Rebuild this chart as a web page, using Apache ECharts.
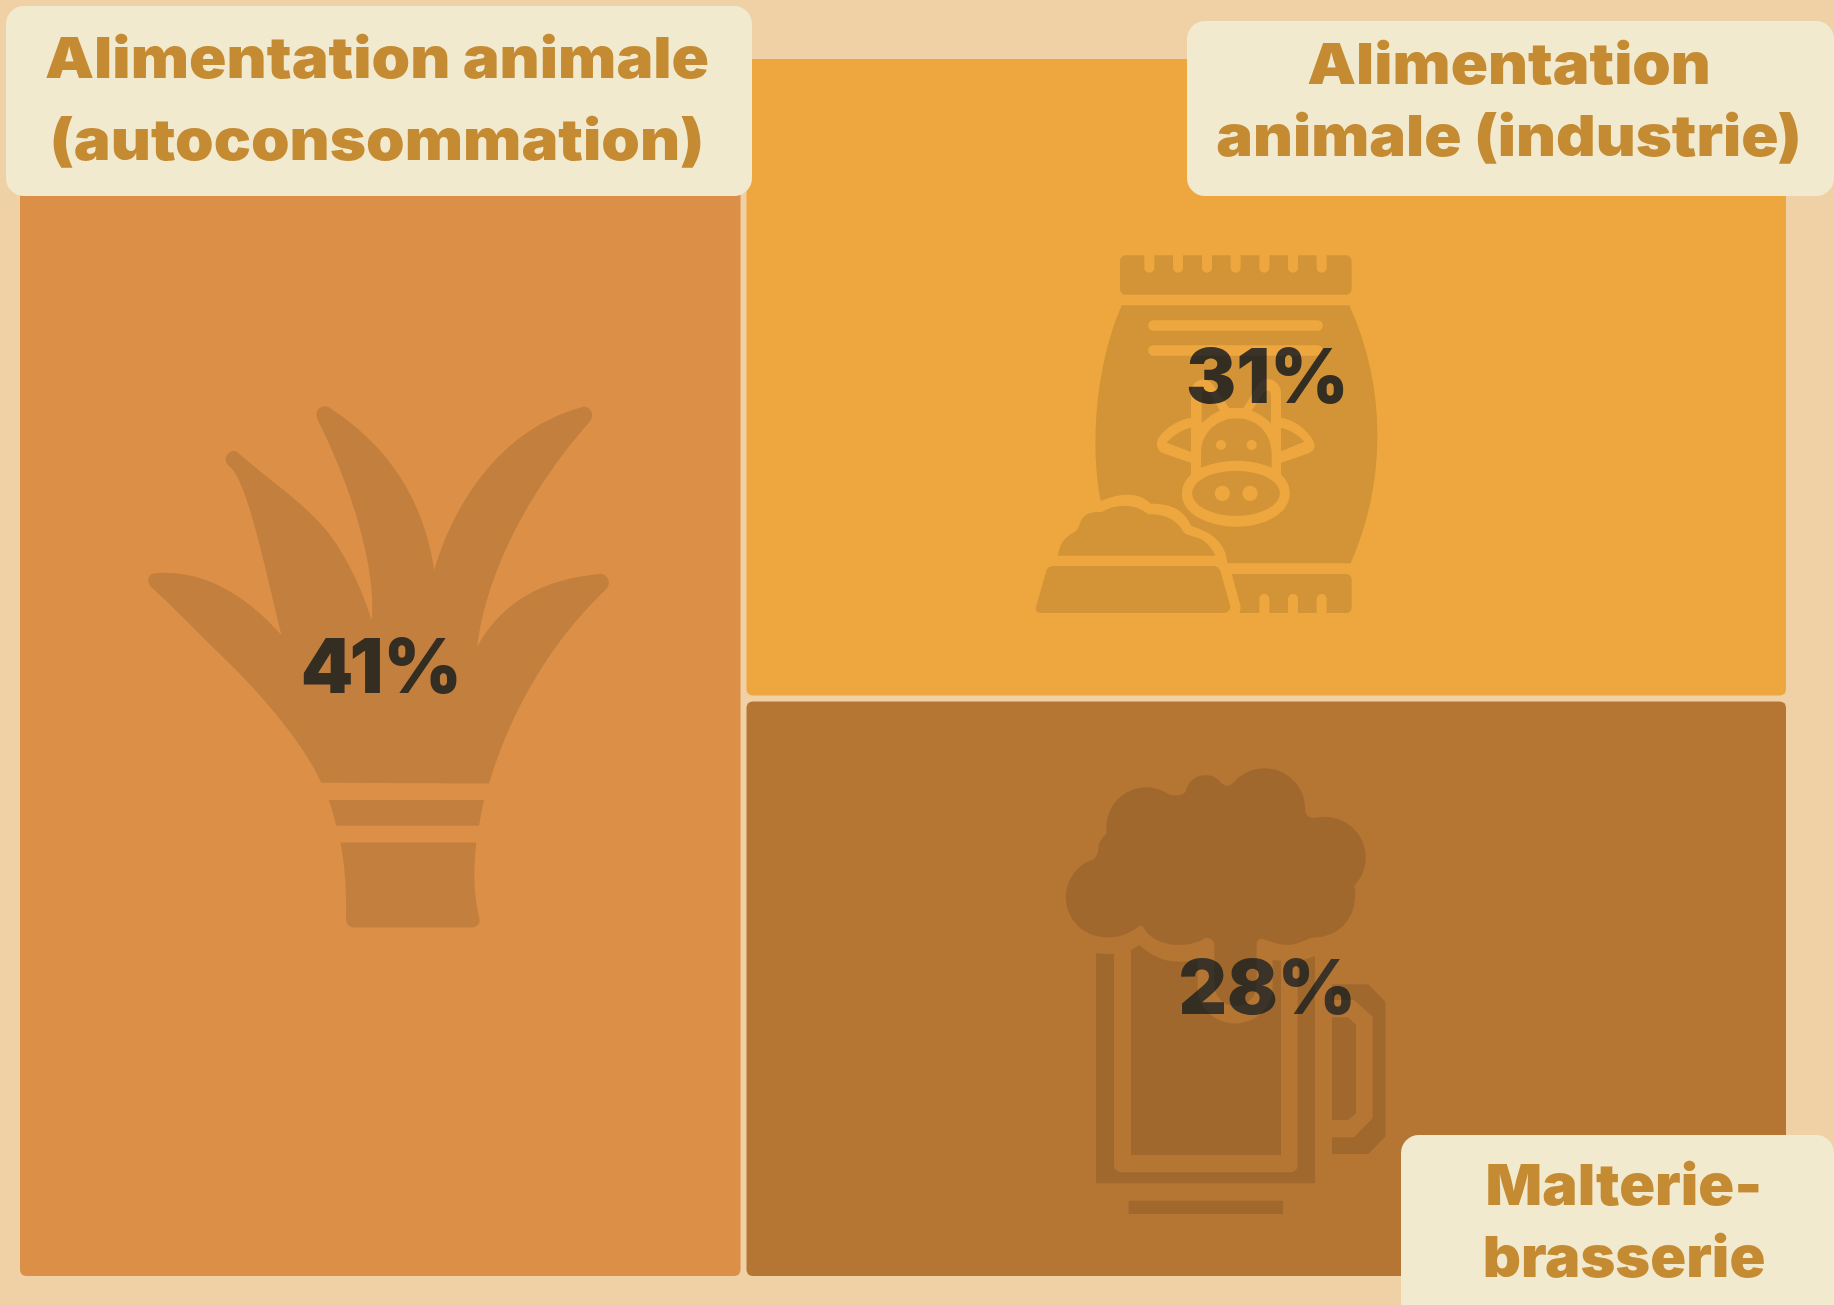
<!DOCTYPE html>
<html lang="fr">
<head>
<meta charset="utf-8">
<title>Débouchés de l'orge</title>
<style>
  html, body { margin: 0; padding: 0; background: #EFD1A5; }
  #chart { width: 1834px; height: 1305px; }
</style>
<script src="https://cdn.jsdelivr.net/npm/echarts@6/dist/echarts.min.js"></script>
</head>
<body>
<div id="chart"></div>
<script>
// Shares of barley use, one treemap cell per outlet
const categories = ['Alimentation animale\n(autoconsommation)', 'Alimentation animale (industrie)', 'Malterie-brasserie'];
const shares = [41, 31, 28];
const cellColors = ['#DC8F46', '#EDA73E', '#B57533'];

// Name plates: wrapped text, box geometry, text anchor (x, y, line height, horizontal stretch)
const plateLines = ['Alimentation animale\n(autoconsommation)', 'Alimentation\nanimale (industrie)', 'Malterie-\nbrasserie'];
const plateBoxes = [[6, 6, 746, 190], [1187, 21, 647, 175], [1401, 1135, 433, 190]];
const plateTextAnchors = [[377, 102, 82, 1.085], [1509, 103, 72, 1.08], [1624, 1224, 72, 1.04]];

// Pictograms, written in their own drawing units: sheaf, feed bag with cow, beer mug
const sheafPath = 'M604 1100 C540 970 400 830 300 740 C220 665 150 600 92 550 C78 535 85 515 105 513 C240 503 370 565 485 687 '
  + 'C440 520 385 260 330 215 C305 200 320 165 350 172 C430 240 560 320 625 400 C690 480 730 570 755 645 '
  + 'C770 510 700 280 592 82 C580 55 610 35 632 52 C800 155 910 300 943 505 '
  + 'C1000 320 1140 110 1385 48 C1410 42 1428 70 1408 90 C1270 235 1105 470 1072 718 '
  + 'C1150 585 1280 530 1435 515 C1460 510 1478 540 1458 558 C1300 700 1180 880 1107 1102 Z '
  + 'M626 1148 H1092 C1087 1170 1082 1195 1077 1220 H649 C643 1195 635 1172 626 1148 Z '
  + 'M661 1267 H1069 C1060 1340 1060 1410 1078 1478 C1083 1495 1070 1505 1055 1505 H702 C688 1505 678 1495 678 1480 C680 1410 675 1330 661 1267 Z';

const bagPath = 'M316 46 H373 V83 A15 15 0 0 0 403 83 V46 H459 V83 A15 15 0 0 0 489 83 V46 H546 V83 A15 15 0 0 0 576 83 V46 '
  + 'H632 V83 A15 15 0 0 0 662 83 V46 H718 V83 A15 15 0 0 0 748 83 V46 H804 V83 A15 15 0 0 0 834 83 V46 H890 V83 A15 15 0 0 0 920 83 V46 '
  + 'H979 A16 16 0 0 1 995 62 V148 A16 16 0 0 1 979 164 H316 A16 16 0 0 1 300 148 V62 A16 16 0 0 1 316 46 Z '
  // sack body, wound clockwise so the cow outline can cut through it
  + 'M305 196 H988 C1100 440 1100 730 992 970 H622 C618 905 570 875 513 858 C495 810 450 790 392 791 C360 760 310 755 242 783 C210 620 225 380 305 196 Z '
  + 'M400 241 A15.5 15.5 0 0 0 400 272 H893 A15.5 15.5 0 0 0 893 241 Z '
  + 'M400 316 A15.5 15.5 0 0 0 400 347 H893 A15.5 15.5 0 0 0 893 316 Z '
  + 'M513 460 V533 C470 540 430 570 415 595 C405 615 415 635 430 640 L513 668 V703 C470 745 480 800 530 830 C600 870 700 870 765 830 '
  + 'C815 800 825 745 783 703 V668 L866 640 C885 632 890 615 875 595 C860 570 825 540 783 533 V460 C783 425 745 405 720 425 L670 505 '
  + 'Q648 503 628 505 L575 430 C550 405 513 425 513 460 Z '
  + 'M545 550 V470 C545 450 560 445 570 460 L600 512 C580 520 560 535 545 550 Z '
  + 'M753 550 C740 535 715 520 695 512 L730 460 C740 445 753 450 753 470 Z '
  + 'M513 636 L440 608 C455 590 480 570 513 563 Z '
  + 'M783 563 C815 570 840 590 853 605 L783 634 Z '
  + 'M543 683 V640 C543 575 595 535 650 535 C705 535 755 575 755 640 V683 C690 655 610 655 543 683 Z '
  + 'M588 615 A15 15 0 0 0 618 615 A15 15 0 0 0 588 615 Z '
  + 'M680 615 A15 15 0 0 0 710 615 A15 15 0 0 0 680 615 Z '
  + 'M516 760 A132 68 0 0 1 780 760 A132 68 0 0 1 516 760 Z '
  + 'M584 760 A23 23 0 0 0 630 760 A23 23 0 0 0 584 760 Z '
  + 'M667 760 A23 23 0 0 0 713 760 A23 23 0 0 0 667 760 Z '
  // heap of feed, bowl and lower hem of the sack
  + 'M114 947 C118 910 135 890 165 875 C178 865 178 850 185 838 C200 815 225 815 245 816 C290 790 345 790 385 823 C440 820 475 845 490 875 '
  + 'C500 890 530 885 555 905 C570 918 582 935 586 947 Z '
  + 'M48 1100 L78 995 C82 983 90 978 100 978 H580 C592 978 598 985 602 995 L630 1095 C634 1110 622 1119 610 1119 H66 C52 1119 44 1110 48 1100 Z '
  + 'M635 1002 H979 A16 16 0 0 1 995 1018 V1103 A16 16 0 0 1 979 1119 H920 V1077 A15 15 0 0 0 890 1077 V1119 H834 V1077 A15 15 0 0 0 804 1077 '
  + 'V1119 H748 V1077 A15 15 0 0 0 718 1077 V1119 H658 C664 1105 662 1095 658 1085 Z';

const mugPath = 'M268 527 C235 555 205 562 170 562 A120 120 0 0 1 130 328 C140 320 145 310 145 295 C145 280 155 265 170 250 A120 120 0 0 1 355 132 '
  + 'C370 138 395 138 407 125 A60 60 0 0 1 515 100 C525 110 540 110 548 100 A122 122 0 0 1 765 175 C765 195 775 205 795 204 A122 122 0 0 1 912 408 '
  + 'C918 420 915 430 915 445 A120 120 0 0 1 795 562 C775 563 745 585 715 585 C685 585 660 575 640 567 C628 563 620 572 620 585 V705 A63 63 0 0 1 493 705 V585 '
  + 'C493 570 480 560 465 565 C440 580 415 585 385 585 C340 585 300 565 285 540 C280 527 272 525 268 527 Z '
  + 'M243 600 L268 585 C300 615 340 635 385 635 C405 635 425 633 443 630 V710 C443 780 500 820 555 820 C610 820 668 780 668 710 V630 L693 632 V1215 H243 Z '
  + 'M138 610 C155 612 175 613 192 612 V1245 C192 1258 203 1267 216 1267 H720 C733 1267 743 1258 743 1245 V635 L795 618 V1300 H138 Z '
  + 'M846 703 H955 L1006 755 V1160 L955 1212 H846 V1162 H912 L968 1105 V800 L912 750 H846 Z '
  + 'M846 802 H895 L918 825 V1090 L895 1110 H846 Z '
  + 'M236 1352 H699 V1392 H236 Z';

// Each pictogram: path, drawing-unit scale and page offset
const pictograms = [
  { d: sheafPath, sx: 1 / 3, sy: 1 / 2.8, ox: 120, oy: 390 },
  { d: bagPath, sx: 1 / 3, sy: 1 / 3, ox: 1020, oy: 240 },
  { d: mugPath, sx: 1 / 3, sy: 1 / 3, ox: 1050, oy: 750 }
];

const chart = echarts.init(document.getElementById('chart'), null, { renderer: 'canvas' });

function renderPictogram(params) {
  const p = pictograms[params.dataIndex];
  const box = echarts.graphic.makePath(p.d, {}).getBoundingRect();
  return {
    type: 'path',
    shape: {
      pathData: p.d,
      layout: 'cover',
      x: p.ox + box.x * p.sx,
      y: p.oy + box.y * p.sy,
      width: box.width * p.sx,
      height: box.height * p.sy
    },
    style: { fill: 'rgba(0,0,0,0.11)' }
  };
}

const plates = [];
plateLines.forEach(function (text, i) {
  const b = plateBoxes[i];
  const a = plateTextAnchors[i];
  plates.push({
    type: 'rect', z: 20,
    shape: { x: b[0], y: b[1], width: b[2], height: b[3], r: 18 },
    style: { fill: '#F2EACF' }
  });
  plates.push({
    type: 'text', z: 21, x: a[0], y: a[1], scaleX: a[3],
    style: {
      text: text,
      fill: '#C58B32',
      font: '900 57px Inter, sans-serif',
      lineHeight: a[2],
      align: 'center',
      verticalAlign: 'middle'
    }
  });
});

chart.setOption({
  backgroundColor: '#EFD1A5',
  animation: false,
  tooltip: { show: false },
  graphic: { elements: plates },
  series: [
    {
      type: 'treemap',
      left: 20, top: 59, width: 1766, height: 1217,
      roam: false,
      nodeClick: false,
      silent: true,
      squareRatio: 1,
      breadcrumb: { show: false },
      itemStyle: { gapWidth: 6, borderWidth: 0, borderColor: '#EFD1A5', borderRadius: 6 },
      label: {
        show: true,
        position: 'inside',
        align: 'center',
        verticalAlign: 'middle',
        offset: [1, 3],
        formatter: '{c}%',
        color: '#3B3327',
        fontFamily: 'Inter, sans-serif',
        fontWeight: 900,
        fontSize: 75
      },
      data: categories.map(function (name, i) {
        return { name: name, value: shares[i], itemStyle: { color: cellColors[i] } };
      })
    },
    {
      type: 'custom',
      coordinateSystem: 'none',
      z: 5,
      silent: true,
      renderItem: renderPictogram,
      data: pictograms.map(function (_, i) { return [i]; })
    }
  ]
});
</script>
</body>
</html>
